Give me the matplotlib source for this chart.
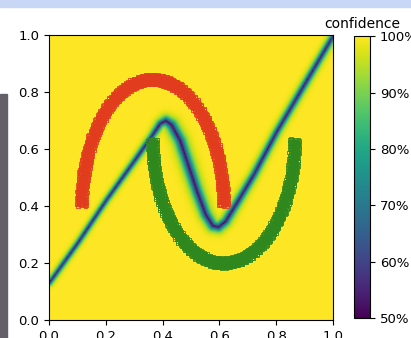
import numpy as np
import matplotlib
matplotlib.use("Agg")
import matplotlib.pyplot as plt
from matplotlib.patches import Rectangle

# ---- data ----
# decision boundary knots (x, y) and local width of the uncertain band
boundary_x = [0.00, 0.10, 0.20, 0.30, 0.36, 0.39, 0.41, 0.43, 0.46, 0.49, 0.52, 0.55, 0.575, 0.595, 0.62, 0.66, 0.72, 0.80, 0.90, 1.00]
boundary_y = [0.13, 0.27, 0.42, 0.56, 0.645, 0.69, 0.70, 0.685, 0.63, 0.54, 0.45, 0.37, 0.33, 0.325, 0.345, 0.41, 0.51, 0.66, 0.83, 1.00]
boundary_w = [0.010, 0.010, 0.010, 0.011, 0.012, 0.014, 0.017, 0.020, 0.021, 0.021, 0.020, 0.019, 0.018, 0.017, 0.016, 0.015, 0.014, 0.013, 0.013, 0.012]

# moons: centre, radii, angle range (degrees), half thickness
red_moon = dict(cx=0.365, cy=0.40, rx=0.25, ry=0.445, t0=0, t1=180)
green_moon = dict(cx=0.615, cy=0.635, rx=0.25, ry=0.435, t0=180, t1=360)
moon_half_thickness = 0.017
spread_pattern = [0.0, 0.7, -0.5, 0.2, -0.9, 0.45, -0.25, 0.9, -0.7, 0.35, -0.1, 0.6, -0.35, 1.0, -1.0, 0.1, -0.6, 0.8, -0.8, 0.55, -0.15]

cbar_ticks = [0.5, 0.6, 0.7, 0.8, 0.9, 1.0]
cbar_labels = ["50%", "60%", "70%", "80%", "90%", "100%"]
x_ticks = [0.0, 0.2, 0.4, 0.6, 0.8, 1.0]
y_ticks = [0.0, 0.2, 0.4, 0.6, 0.8, 1.0]

# ---- confidence field ----
n = 220
gx = np.linspace(0, 1, n)
X, Y = np.meshgrid(gx, gx)
s = np.linspace(0, 1, 1600)
knot_s = np.linspace(0, 1, len(boundary_x))
bx = np.interp(s, knot_s, boundary_x)
by = np.interp(s, knot_s, boundary_y)
bw = np.interp(s, knot_s, boundary_w)
P = np.stack([X.ravel(), Y.ravel()], 1)
best = np.full(P.shape[0], np.inf)
for i in range(0, len(bx), 160):
    d = np.sqrt((P[:, None, 0] - bx[None, i:i+160]) ** 2 + (P[:, None, 1] - by[None, i:i+160]) ** 2)
    r = d / bw[None, i:i+160]
    best = np.minimum(best, r.min(1))
R = best.reshape(X.shape)
conf = 0.5 + 0.5 * np.tanh(R)

# ---- figure ----
fig = plt.figure(figsize=(4.11, 3.38), dpi=100)
ax = fig.add_axes([0.119, 0.053, 0.691, 0.843])
im = ax.imshow(conf, origin="lower", extent=[0, 1, 0, 1], cmap="viridis",
               vmin=0.5, vmax=1.0, aspect="auto", interpolation="bilinear")


def moon_points(m, nt=1300):
    t = np.radians(np.linspace(m["t0"], m["t1"], nt))
    nx = m["ry"] * np.cos(t)
    ny = m["rx"] * np.sin(t)
    nn = np.hypot(nx, ny)
    nx, ny = nx / nn, ny / nn
    pat = np.array(spread_pattern)
    off = pat[np.arange(nt) % len(pat)] * moon_half_thickness
    x = m["cx"] + m["rx"] * np.cos(t) + off * nx
    y = m["cy"] + m["ry"] * np.sin(t) + off * ny
    return x, y


rx_, ry_ = moon_points(red_moon)
gx_, gy_ = moon_points(green_moon)
ax.scatter(rx_, ry_, marker="s", s=7, facecolors="none", edgecolors="#e23c1e", linewidths=0.6)
ax.scatter(gx_, gy_, marker="s", s=7, facecolors="none", edgecolors="#2f881e", linewidths=0.6)

ax.set_xlim(0, 1)
ax.set_ylim(0, 1)
ax.set_xticks(x_ticks)
ax.set_yticks(y_ticks)
ax.tick_params(labelsize=9.5)

cax = fig.add_axes([0.862, 0.059, 0.039, 0.834])
cb = fig.colorbar(im, cax=cax, ticks=cbar_ticks)
cb.ax.set_yticklabels(cbar_labels)
cb.ax.tick_params(labelsize=9.5)
cax.set_title("confidence", fontsize=10, pad=6)

# screenshot decorations
fig.patches.append(Rectangle((0, 1 - 7 / 338), 1, 7 / 338, transform=fig.transFigure,
                             color="#c8d7f5", zorder=-1))
fig.patches.append(Rectangle((0, 0), 7 / 411, (338 - 94) / 338, transform=fig.transFigure,
                             color="#655f6a", zorder=-1))

fig.savefig("out.png", dpi=100)
